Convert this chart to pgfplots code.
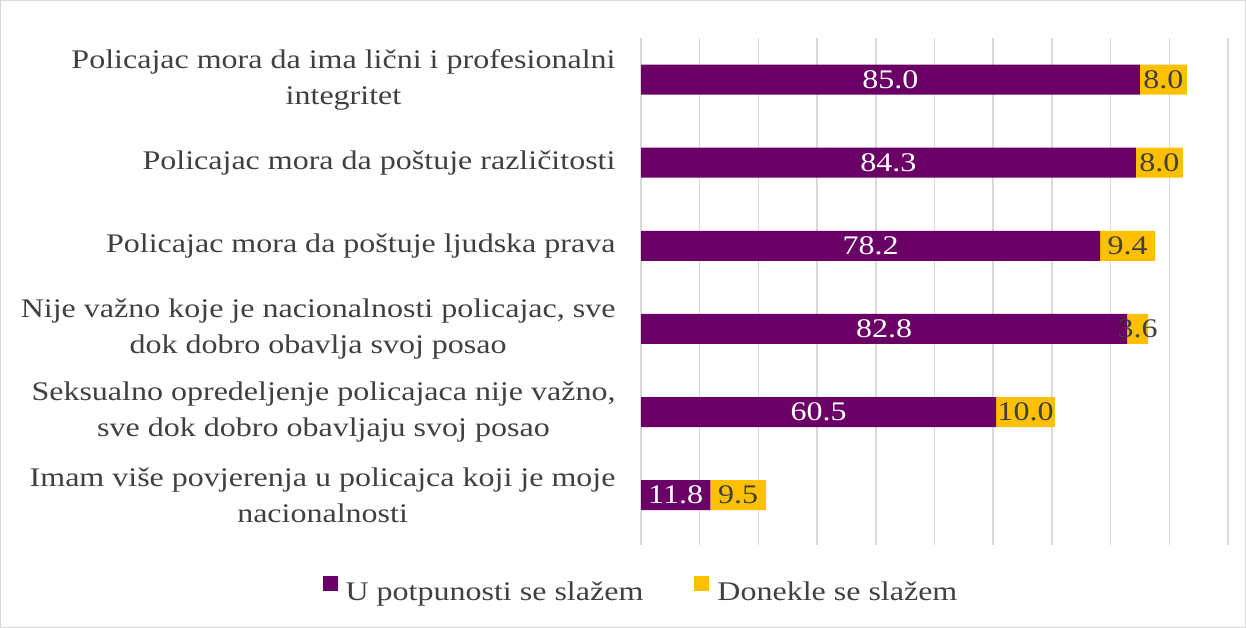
\documentclass[border=0pt]{standalone}
\usepackage{fontspec}
\setmainfont{Liberation Serif}[FakeStretch=1.19]
\usepackage{pgfplots}
\pgfplotsset{compat=1.18}
\definecolor{purp}{HTML}{6A0066}
\definecolor{gold}{HTML}{FFC000}
\definecolor{txt}{HTML}{404040}
\definecolor{gridc}{HTML}{D9D9D9}

\pgfplotstableread{
y a b
5 85.0 8.0
4 84.3 8.0
3 78.2 9.4
2 82.8 3.6
1 60.5 10.0
0 11.8 9.5
}\data

\newcommand{\lblfont}{\fontsize{27}{36}\selectfont}

\begin{document}
\begin{tikzpicture}[x=1bp,y=1bp]
\useasboundingbox (0,0) rectangle (1246,628);
\fill[white] (0,0) rectangle (1246,628);
\draw[gridc, line width=1bp] (0.5,0.5) rectangle (1245.5,627.5);
\begin{axis}[
  at={(641bp,83bp)}, anchor=south west,
  scale only axis, width=587bp, height=507bp,
  xmin=0, xmax=100, ymin=-0.6, ymax=5.5,
  xbar stacked, bar width=30bp,
  axis line style={draw=none},
  xtick={0,10,...,100}, xticklabels={},
  major tick length=0pt,
  xmajorgrids, grid style={gridc, line width=1.5bp},
  ytick={0,1,2,3,4,5},
  yticklabels={
    {Imam više povjerenja u policajca koji je moje\\nacionalnosti},
    {Seksualno opredeljenje policajaca nije važno,\\sve dok dobro obavljaju svoj posao},
    {Nije važno koje je nacionalnosti policajac, sve\\dok dobro obavlja svoj posao},
    {Policajac mora da poštuje ljudska prava},
    {Policajac mora da poštuje različitosti},
    {Policajac mora da ima lični i profesionalni\\integritet}},
  yticklabel style={align=center, font=\lblfont, text=txt, xshift=-22bp},
  legend style={at={(0,-0.0888)}, anchor=center, draw=none, fill=none,
    font=\lblfont, text=txt, legend columns=2,
    /tikz/every even column/.append style={column sep=49bp}},
  legend image code/.code={\fill[#1] (0bp,0bp) rectangle (15bp,15bp); \path (21bp,0bp);},
]
\addplot[fill=purp, draw=none] table[x=a, y=y] {\data};
\addplot[fill=gold, draw=none] table[x=b, y=y] {\data};
\legend{U potpunosti se slažem, Donekle se slažem}
\end{axis}
\begin{axis}[
  at={(641bp,83bp)}, anchor=south west,
  scale only axis, width=587bp, height=507bp,
  xmin=0, xmax=100, ymin=-0.6, ymax=5.5,
  hide axis,
  nodes near coords, point meta=explicit symbolic,
  nodes near coords align={center},
]
\addplot[draw=none, nodes near coords style={font=\lblfont, text=white, anchor=center}]
  coordinates {(42.5,5)[85.0] (42.15,4)[84.3] (39.1,3)[78.2] (41.4,2)[82.8] (30.25,1)[60.5] (5.9,0)[11.8]};
\addplot[draw=none, nodes near coords style={font=\lblfont, text=txt, anchor=center}]
  coordinates {(89,5)[8.0] (88.3,4)[8.0] (82.9,3)[9.4] (84.6,2)[3.6] (65.5,1)[10.0] (16.55,0)[9.5]};
\end{axis}
\end{tikzpicture}
\end{document}
